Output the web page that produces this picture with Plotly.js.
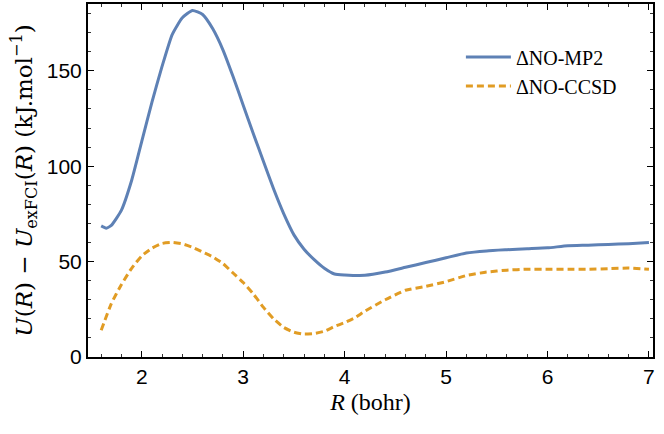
<!DOCTYPE html>
<html>
<head>
<meta charset="utf-8">
<script src="https://cdn.plot.ly/plotly-3.0.1.min.js"></script>
<style>
  body { margin: 0; background: #fff; }
  #plot { width: 664px; height: 434px; }
</style>
</head>
<body>
<div id="plot"></div>
<script>
// R grid (bohr) and energy differences (kJ/mol)
var rMP2 = [1.6, 1.65, 1.7, 1.8, 1.9, 2.0, 2.1, 2.2, 2.3, 2.4, 2.5, 2.6, 2.7, 2.8, 2.9, 3.0, 3.1, 3.2, 3.3, 3.4, 3.5, 3.6, 3.7, 3.8, 3.9, 4.0, 4.2, 4.4, 4.6, 4.8, 5.0, 5.2, 5.4, 5.6, 5.8, 6.0, 6.2, 6.4, 6.6, 6.8, 7.0];
var dMP2 = [68.7, 67.5, 69, 77, 92.5, 113, 133.5, 152.3, 169, 177.8, 181.6, 179.5, 172, 161, 147, 132, 117, 102.5, 88, 75, 64, 56.5, 51, 46.5, 43.5, 43, 42.8, 44.5, 47, 49.5, 52, 54.5, 55.6, 56.2, 56.7, 57.2, 58.3, 58.6, 59, 59.4, 60];

var rCCSD = [1.6, 1.7, 1.8, 1.9, 2.0, 2.1, 2.2, 2.3, 2.4, 2.5, 2.6, 2.7, 2.8, 2.9, 3.0, 3.1, 3.2, 3.3, 3.4, 3.5, 3.6, 3.7, 3.8, 3.9, 4.0, 4.1, 4.2, 4.4, 4.6, 4.8, 5.0, 5.2, 5.4, 5.6, 5.8, 6.0, 6.2, 6.4, 6.6, 6.8, 7.0];
var dCCSD = [14, 28, 38, 46.5, 53, 57, 59.5, 60, 59.3, 57.5, 55, 52.5, 49, 44, 39, 33, 26, 20, 15.5, 13, 12, 12.3, 13.5, 16, 18, 20.5, 24, 30, 35, 37, 39.5, 42.7, 44.5, 45.5, 46, 46, 46, 46, 46.3, 46.6, 46];

var serif = "Liberation Serif, DejaVu Serif, serif";
var sans = "Liberation Sans, Arial, sans-serif";

var traceMP2 = {
  x: rMP2,
  y: dMP2,
  name: "ΔNO-MP2",
  mode: "lines",
  type: "scatter",
  line: {color: "#5e81b5", width: 3, shape: "spline", smoothing: 0.5}
};

var traceCCSD = {
  x: rCCSD,
  y: dCCSD,
  name: "ΔNO-CCSD",
  mode: "lines",
  type: "scatter",
  line: {color: "#e19c24", width: 3, dash: "7px,4px", shape: "spline", smoothing: 0.5}
};

var data = [traceMP2, traceCCSD];

var layout = {
  width: 664,
  height: 434,
  margin: {l: 88, r: 11, t: 4, b: 77},
  paper_bgcolor: "#fff",
  plot_bgcolor: "#fff",
  showlegend: true,
  legend: {
    x: 0.66, y: 0.905, xanchor: "left", yanchor: "top",
    bgcolor: "rgba(0,0,0,0)",
    font: {family: serif, size: 20, color: "#000"},
    itemwidth: 45,
    tracegroupgap: 0
  },
  xaxis: {
    range: [1.47, 7.04],
    tickmode: "linear", tick0: 2, dtick: 1,
    ticks: "inside", ticklen: 6, tickwidth: 1, tickcolor: "#000",
    minor: {dtick: 0.2, ticks: "inside", ticklen: 3, tickwidth: 1, tickcolor: "#333"},
    showline: true, linecolor: "#000", linewidth: 2, mirror: "allticks",
    showgrid: false, zeroline: false,
    tickfont: {family: sans, size: 21, color: "#000"},
    title: {text: "<i>R</i> (bohr)", font: {family: serif, size: 24, color: "#000"}, standoff: 6}
  },
  yaxis: {
    range: [0, 185],
    tickmode: "linear", tick0: 0, dtick: 50,
    ticks: "inside", ticklen: 6, tickwidth: 1, tickcolor: "#000",
    minor: {dtick: 10, ticks: "inside", ticklen: 3, tickwidth: 1, tickcolor: "#333"},
    showline: true, linecolor: "#000", linewidth: 2, mirror: "allticks",
    showgrid: false, zeroline: false,
    tickfont: {family: sans, size: 21, color: "#000"},
    title: {
      text: "<i>U</i>(<i>R</i>) − <i>U</i><sub>exFCI</sub>(<i>R</i>) (kJ.mol<sup>−1</sup>)",
      font: {family: "DejaVu Serif, serif", size: 23, color: "#000"},
      standoff: 8
    }
  }
};

Plotly.newPlot("plot", data, layout, {displayModeBar: false, staticPlot: true});
</script>
</body>
</html>
